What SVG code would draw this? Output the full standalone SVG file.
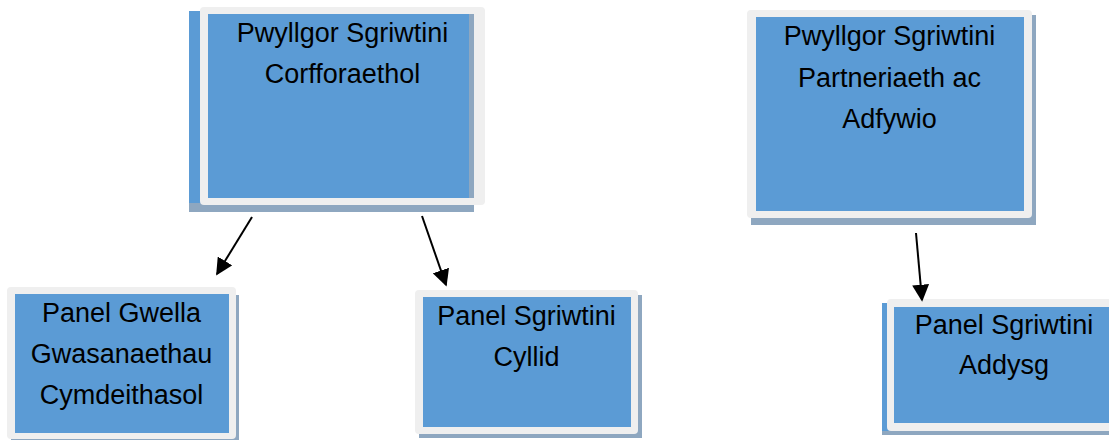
<svg xmlns="http://www.w3.org/2000/svg" width="1109" height="440" viewBox="0 0 1109 440">
<defs>
<style>
.frame{fill:#efefef;}
.inner{fill:#5b9bd5;}
.shadow{fill:#8ea7c0;}
.back{fill:#5b9bd5;}
.lbl{font-family:"Liberation Sans",Arial,sans-serif;font-size:27px;fill:#000;text-anchor:middle;}
.conn{stroke:#000;stroke-width:2;fill:none;}
</style>
<marker id="ah" viewBox="0 0 10 10" refX="9" refY="5" markerWidth="8.5" markerHeight="8.5" orient="auto" markerUnits="strokeWidth">
<path d="M0,0 L10,5 L0,10 z" fill="#000"/>
</marker>
</defs>
<rect width="1109" height="440" fill="#fff"/>

<g id="node-corfforaethol">
<rect class="shadow" x="189" y="14" width="285" height="198"/>
<rect class="back" x="189" y="11" width="280" height="192"/>
<rect class="frame" x="200" y="7" width="285" height="198" rx="4"/>
<rect class="shadow" x="208" y="14" width="266" height="184"/>
<rect class="inner" x="208" y="14" width="261" height="184"/>
<text class="lbl" x="342.5" y="42">Pwyllgor Sgriwtini</text>
<text class="lbl" x="342.5" y="83">Corfforaethol</text>
</g>

<g id="node-partneriaeth">
<rect class="shadow" x="751" y="15" width="285" height="210"/>
<rect class="frame" x="747" y="10" width="285" height="208" rx="4"/>
<rect class="inner" x="756" y="17" width="268" height="194"/>
<text class="lbl" x="889.5" y="45">Pwyllgor Sgriwtini</text>
<text class="lbl" x="889.5" y="87">Partneriaeth ac</text>
<text class="lbl" x="889.5" y="128">Adfywio</text>
</g>

<g id="node-gwella">
<rect class="shadow" x="11" y="295" width="228" height="150"/>
<rect class="frame" x="7" y="287" width="229" height="152" rx="4"/>
<rect class="inner" x="15" y="294" width="214" height="139"/>
<text class="lbl" x="121.5" y="322">Panel Gwella</text>
<text class="lbl" x="121.5" y="363">Gwasanaethau</text>
<text class="lbl" x="121.5" y="404">Cymdeithasol</text>
</g>

<g id="node-cyllid">
<rect class="shadow" x="419" y="295" width="223" height="143"/>
<rect class="frame" x="415" y="290" width="223" height="144" rx="4"/>
<rect class="inner" x="423" y="297" width="208" height="130"/>
<text class="lbl" x="526.5" y="325">Panel Sgriwtini</text>
<text class="lbl" x="526.5" y="366">Cyllid</text>
</g>

<g id="node-addysg">
<rect class="shadow" x="882" y="306" width="240" height="129"/>
<rect class="back" x="882" y="303" width="235" height="128"/>
<rect class="frame" x="887" y="299" width="234" height="132" rx="4"/>
<rect class="inner" x="894" y="307" width="220" height="116"/>
<text class="lbl" x="1004" y="334">Panel Sgriwtini</text>
<text class="lbl" x="1004" y="374">Addysg</text>
</g>

<g id="connectors">
<line class="conn" x1="252" y1="217" x2="217" y2="274" marker-end="url(#ah)"/>
<line class="conn" x1="422" y1="216" x2="446" y2="285" marker-end="url(#ah)"/>
<line class="conn" x1="916" y1="233" x2="922" y2="300" marker-end="url(#ah)"/>
</g>
</svg>
